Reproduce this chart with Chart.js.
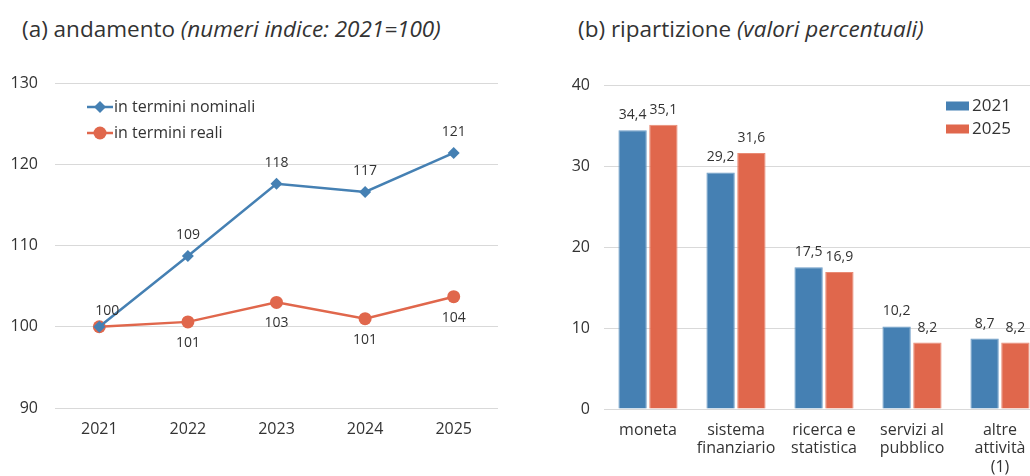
<!DOCTYPE html>
<html lang="it">
<head>
<meta charset="UTF-8">
<title>Andamento e ripartizione</title>
<script src="https://cdn.jsdelivr.net/npm/chart.js"></script>
<style>
  html, body { margin: 0; padding: 0; overflow: hidden; background: #fff; }
  body { width: 1030px; height: 476px; position: relative; font-family: "Open Sans", sans-serif; color: #333; }
  .title { position: absolute; top: 13px; font-size: 22.5px; line-height: 32px; white-space: nowrap; }
  .title i { font-style: italic; }
  .box { position: absolute; top: 0; height: 476px; }
</style>
</head>
<body>
<div class="title" style="left:22px">(a) andamento <i>(numeri indice: 2021=100)</i></div>
<div class="title" style="left:578px">(b) ripartizione <i>(valori percentuali)</i></div>
<div class="box" style="left:0; width:520px"><canvas id="lineChart" width="520" height="476"></canvas></div>
<div class="box" style="left:560px; width:500px"><canvas id="barChart" width="500" height="476"></canvas></div>

<script>
// (a) andamento
const years = ['2021', '2022', '2023', '2024', '2025'];
const nominali = [100, 108.7, 117.6, 116.6, 121.4];
const reali = [100, 100.6, 103.0, 101.0, 103.7];
const nominaliLabels = ['100', '109', '118', '117', '121'];
const realiLabels = [null, '101', '103', '101', '104'];

// (b) ripartizione
const attivita = ['moneta', ['sistema', 'finanziario'], ['ricerca e', 'statistica'], ['servizi al', 'pubblico'], ['altre', 'attività', '(1)']];
const val2021 = [34.4, 29.2, 17.5, 10.2, 8.7];
const val2025 = [35.1, 31.6, 16.9, 8.2, 8.2];

const BLUE = '#4580b3';
const RED = '#e0674c';
const TEXT = '#333333';
const GRID = '#d9d9d9';
const FONT = '"Open Sans", sans-serif';

Chart.defaults.font.family = FONT;
Chart.defaults.color = TEXT;
Chart.defaults.animation = false;
Chart.defaults.responsive = false;

// data labels written next to each point / bar
const valueLabels = {
  id: 'valueLabels',
  afterDatasetsDraw(chart) {
    const ctx = chart.ctx;
    ctx.save();
    ctx.font = '14px ' + FONT;
    ctx.fillStyle = TEXT;
    ctx.textAlign = 'center';
    ctx.textBaseline = 'middle';
    const isBar = chart.config.type === 'bar';
    chart.data.datasets.forEach((ds, i) => {
      const meta = chart.getDatasetMeta(i);
      meta.data.forEach((el, j) => {
        const txt = ds.labels ? ds.labels[j] : String(ds.data[j]).replace('.', ',');
        if (!txt) return;
        const off = isBar ? -15 : (ds.labelPos === 'below' ? 21 : -21);
        // the first label sits a bit to the right, clear of the other series' marker
        const dx = !isBar && j === 0 ? 8 : 0;
        ctx.fillText(txt, el.x + dx, el.y + (dx ? -16 : off));
      });
    });
    ctx.restore();
  }
};

// simple legend drawn at a fixed place inside the plot
const fixedLegend = {
  id: 'fixedLegend',
  afterDraw(chart, args, opts) {
    const ctx = chart.ctx;
    ctx.save();
    ctx.font = opts.size + 'px ' + FONT;
    ctx.textBaseline = 'middle';
    chart.data.datasets.forEach((ds, i) => {
      const y = opts.y + i * opts.gap;
      if (opts.kind === 'line') {
        const cx = opts.x + 13;
        ctx.strokeStyle = ds.borderColor;
        ctx.lineWidth = 2.5;
        ctx.beginPath();
        ctx.moveTo(opts.x, y);
        ctx.lineTo(opts.x + 26, y);
        ctx.stroke();
        ctx.fillStyle = ds.borderColor;
        ctx.beginPath();
        const r = ds.pointRadius;
        if (ds.pointStyle === 'circle') {
          ctx.arc(cx, y, r, 0, Math.PI * 2);
        } else {
          ctx.moveTo(cx, y - r);
          ctx.lineTo(cx + r, y);
          ctx.lineTo(cx, y + r);
          ctx.lineTo(cx - r, y);
          ctx.closePath();
        }
        ctx.fill();
        ctx.fillStyle = TEXT;
        ctx.fillText(ds.label, opts.x + 27, y);
      } else {
        ctx.fillStyle = ds.backgroundColor;
        ctx.fillRect(opts.x, y - 4.5, 23, 9);
        ctx.fillStyle = TEXT;
        ctx.fillText(ds.label, opts.x + 26, y);
      }
    });
    ctx.restore();
  }
};

new Chart(document.getElementById('lineChart'), {
  type: 'line',
  data: {
    labels: years,
    datasets: [
      {
        label: 'in termini nominali', data: nominali, labels: nominaliLabels, labelPos: 'above',
        borderColor: BLUE, backgroundColor: BLUE, borderWidth: 2.5,
        pointStyle: 'rectRot', pointRadius: 6, pointBorderWidth: 0
      },
      {
        label: 'in termini reali', data: reali, labels: realiLabels, labelPos: 'below',
        borderColor: RED, backgroundColor: RED, borderWidth: 2.5,
        pointStyle: 'circle', pointRadius: 6.5, pointBorderWidth: 0
      }
    ]
  },
  options: {
    layout: { padding: { top: 83, right: 22, left: 0, bottom: 0 } },
    plugins: {
      legend: { display: false },
      tooltip: { enabled: false },
      fixedLegend: { kind: 'line', x: 87, y: 107, gap: 26, size: 16 }
    },
    scales: {
      x: {
        offset: true,
        grid: { display: false, drawTicks: false },
        border: { display: false },
        ticks: { font: { size: 16 }, padding: 12 },
        afterFit(s) { s.height = 68; }
      },
      y: {
        min: 90, max: 130,
        grid: { color: GRID, lineWidth: 1, drawTicks: false },
        border: { display: false },
        ticks: { stepSize: 10, font: { size: 16 }, padding: 17 },
        afterFit(s) { s.width = 55; }
      }
    }
  },
  plugins: [valueLabels, fixedLegend]
});

new Chart(document.getElementById('barChart'), {
  type: 'bar',
  data: {
    labels: attivita,
    datasets: [
      { label: '2021', data: val2021, backgroundColor: BLUE, borderColor: '#6b9bc6', borderWidth: 1 },
      { label: '2025', data: val2025, backgroundColor: RED, borderColor: '#e98a74', borderWidth: 1 }
    ]
  },
  options: {
    layout: { padding: { top: 85, right: 16, left: 0, bottom: 0 } },
    datasets: { bar: { categoryPercentage: 0.7, barPercentage: 0.92 } },
    plugins: {
      legend: { display: false },
      tooltip: { enabled: false },
      fixedLegend: { kind: 'bar', x: 386, y: 106, gap: 23, size: 17 }
    },
    scales: {
      x: {
        grid: { display: false, drawTicks: false },
        border: { display: false },
        ticks: { font: { size: 16, lineHeight: 1.15 }, padding: 12, maxRotation: 0, autoSkip: false },
        afterFit(s) { s.height = 67; }
      },
      y: {
        min: 0, max: 40,
        grid: { color: GRID, lineWidth: 1, drawTicks: false },
        border: { display: false },
        ticks: { stepSize: 10, font: { size: 16 }, padding: 14 },
        afterFit(s) { s.width = 44; }
      }
    }
  },
  plugins: [valueLabels, fixedLegend]
});
</script>
</body>
</html>
